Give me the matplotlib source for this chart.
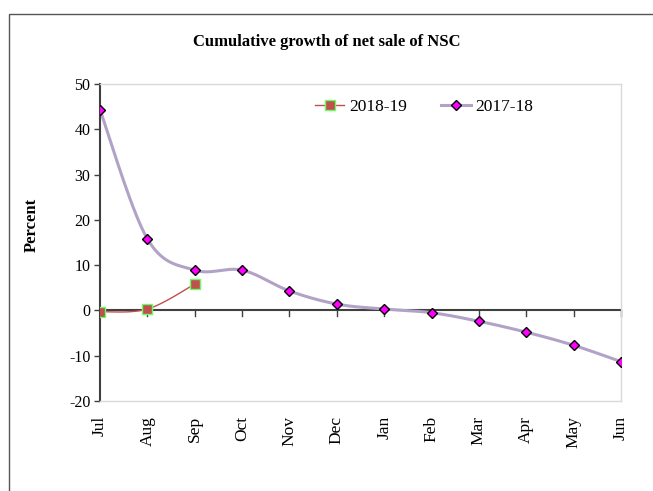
import matplotlib
matplotlib.use("Agg")
import matplotlib.pyplot as plt
import numpy as np
from matplotlib.patches import Rectangle
from matplotlib.lines import Line2D

months = ["Jul", "Aug", "Sep", "Oct", "Nov", "Dec", "Jan", "Feb", "Mar", "Apr", "May", "Jun"]
growth_2017_18 = [44.3, 15.8, 8.9, 8.9, 4.3, 1.4, 0.3, -0.5, -2.4, -4.8, -7.7, -11.3]
growth_2018_19 = [-0.3, 0.3, 5.8]

plt.rcParams["font.family"] = ["Liberation Serif", "DejaVu Serif"]
plt.rcParams["axes.unicode_minus"] = False


def smooth(xs, ys, n=30):
    """Excel-style smoothed line (Catmull-Rom via cubic Bezier)"""
    p = np.column_stack([xs, ys]).astype(float)
    out = [p[0]]
    for i in range(len(p) - 1):
        p0 = p[i - 1] if i > 0 else p[i]
        p3 = p[i + 2] if i + 2 < len(p) else p[i + 1]
        c1 = p[i] + (p[i + 1] - p0) / 6
        c2 = p[i + 1] - (p3 - p[i]) / 6
        t = np.linspace(0, 1, n)[1:, None]
        seg = ((1 - t) ** 3) * p[i] + 3 * ((1 - t) ** 2) * t * c1 + 3 * (1 - t) * t ** 2 * c2 + t ** 3 * p[i + 1]
        out.extend(seg)
    out = np.array(out)
    return out[:, 0], out[:, 1]


fig = plt.figure(figsize=(6.53, 4.91), dpi=100)
W, H = 653, 491
ax = fig.add_axes([100 / W, 1 - 401 / H, 521 / W, 317 / H])

# outer chart border
fig.patches.append(Rectangle((9 / W, -0.1), 1.2, 1.1 - 14 / H, transform=fig.transFigure,
                             fill=False, edgecolor="#555555", linewidth=1.0))

x = np.arange(len(months))
purple = "#B3A2C7"
sx, sy = smooth(x, growth_2017_18)
ax.plot(sx, sy, color=purple, linewidth=2.2, zorder=2)
ax.plot(x, growth_2017_18, linestyle="none", marker="D", markersize=5.5,
        markerfacecolor="#FF00FF", markeredgecolor="black", markeredgewidth=1.0, zorder=4)

x2 = np.arange(len(growth_2018_19))
sx2, sy2 = smooth(x2, growth_2018_19)
ax.plot(sx2, sy2, color="#C0504D", linewidth=1.0, zorder=3)
ax.plot(x2, growth_2018_19, linestyle="none", marker="s", markersize=7,
        markerfacecolor="#C0504D", markeredgecolor="#66FF66", markeredgewidth=1.0, zorder=5)

ax.set_xlim(0, len(months) - 1)
ax.set_ylim(-20, 50)
ax.set_yticks(range(-20, 51, 10))
ax.set_xticks(x)
ax.set_xticklabels([])

for pos in ("top", "right", "bottom"):
    ax.spines[pos].set_color("#D9D9D9")
    ax.spines[pos].set_linewidth(1.0)
ax.spines["left"].set_color("#404040")
ax.spines["left"].set_linewidth(1.5)
ax.tick_params(axis="y", direction="out", length=4, width=1, color="#404040", labelsize=11.5, pad=3)
ax.tick_params(axis="x", length=0)

# horizontal axis crosses at zero
ax.axhline(0, color="#404040", linewidth=1.5, zorder=1)
for xi in x[1:]:
    ax.plot([xi, xi], [0, -1.3], color="#404040", linewidth=1, zorder=1, clip_on=False)
for xi, m in zip(x, months):
    ax.text(xi, -23.3, m, rotation=90, ha="center", va="top", fontsize=12.5)

fig.text(327 / W, 1 - 42 / H, "Cumulative growth of net sale of NSC", ha="center", va="center",
         fontsize=12, fontweight="bold")
fig.text(32 / W, 1 - 225 / H, "Percent", rotation=90, ha="center", va="center",
         fontsize=12, fontweight="bold")

handles = [
    Line2D([], [], color="#C0504D", linewidth=1.0, marker="s", markersize=7,
           markerfacecolor="#C0504D", markeredgecolor="#66FF66"),
    Line2D([], [], color=purple, linewidth=2.2, marker="D", markersize=5.5,
           markerfacecolor="#FF00FF", markeredgecolor="black"),
]
ax.legend(handles, ["2018-19", "2017-18"], ncol=2, frameon=False, fontsize=12.5,
          loc="center", bbox_to_anchor=((424 - 100) / 521, (401 - 107) / 317),
          handlelength=1.7, handletextpad=0.25, columnspacing=2.0)

fig.savefig("out.png", dpi=100)
